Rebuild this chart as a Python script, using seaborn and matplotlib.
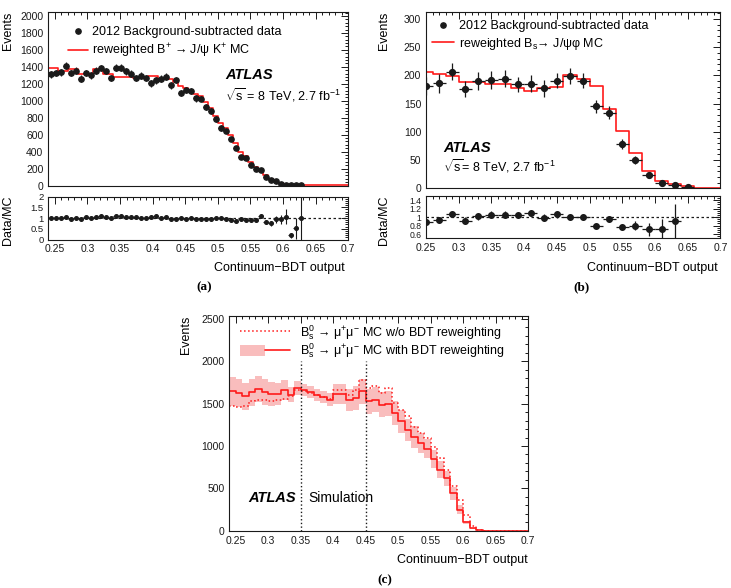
import numpy as np
import pandas as pd
import seaborn as sns
import matplotlib.pyplot as plt
from matplotlib import ticker
from matplotlib.lines import Line2D
from matplotlib.patches import Patch
from matplotlib.legend_handler import HandlerTuple

# panel (a): B+ -> J/psi K+ , 60 bins between 0.24 and 0.70
a_edges = np.linspace(0.24, 0.70, 61)
a_data = [1310, 1325, 1335, 1415, 1325, 1355, 1260, 1325, 1300, 1355,
          1385, 1350, 1265, 1390, 1390, 1345, 1320, 1265, 1295, 1270,
          1205, 1240, 1260, 1285, 1180, 1242, 1090, 1128, 1112, 1028,
          1025, 926, 878, 783, 678, 644, 550, 444, 338, 325,
          242, 192, 179, 101, 62, 50, 20, 8, 2, 1.5, 1.5]
a_data_err = [38] * 30 + [33] * 5 + [27] * 5 + [18] * 5 + [10] * 3 + [5] * 3
a_mc = [1390, 1390, 1355, 1355, 1375, 1375, 1315, 1315, 1315, 1370,
        1370, 1310, 1310, 1275, 1275, 1275, 1275, 1265, 1265, 1265,
        1287, 1287, 1255, 1255, 1255, 1225, 1170, 1150, 1120, 1075,
        1060, 990, 920, 820, 735, 680, 600, 500, 395, 350,
        275, 215, 175, 125, 75, 55, 25, 12, 6, 3,
        1.5, 0.5, 0.3, 0.2, 0.1, 0.1, 0.1, 0.1, 0.1, 0.1]
a_ratio = [1.0, 0.98, 0.98, 1.06, 0.97, 1.0, 0.95, 1.04, 1.02, 1.04,
           1.1, 1.05, 0.98, 1.1, 1.08, 1.06, 1.04, 1.05, 0.98, 0.99,
           1.04, 1.07, 0.98, 1.05, 0.96, 0.97, 0.98, 0.96, 1.02, 0.97,
           0.96, 0.94, 0.95, 0.98, 1.0, 0.95, 0.93, 0.88, 0.94, 0.89,
           0.9, 0.9, 1.1, 0.82, 0.76, 0.94, 0.94, 1.06, 0.2, 0.52, 1.0]
a_ratio_err = [0.04] * 30 + [0.05] * 10 + [0.06, 0.07, 0.08, 0.1, 0.12,
                                           0.15, 0.2, 0.35, 0.12, 0.5, 2.5]

# panel (b): Bs -> J/psi phi , 0.02 wide bins
b_edges = np.linspace(0.24, 0.70, 24)
b_data = [181, 186, 207, 176, 190, 192, 194, 184, 185, 177,
          191, 199, 191, 145, 134, 79, 50, 24, 10, 5, 2.4]
b_data_err = [16, 17, 15, 15, 16, 16, 15, 14, 15, 15,
              14, 14, 14, 12, 11, 9, 7, 5, 3, 2.5, 1.5]
b_mc = [206, 203, 199, 188, 188, 185, 184, 178, 173, 178,
        180, 200, 193, 181, 141, 102, 62, 31, 13, 7, 4, 1, 0.5]
b_ratio = [0.88, 0.93, 1.07, 0.92, 1.02, 1.06, 1.06, 1.05, 1.09, 0.99,
           1.07, 1.01, 1.01, 0.79, 0.95, 0.76, 0.8, 0.71, 0.71, 0.9]
b_ratio_err = [0.07, 0.08, 0.07, 0.08, 0.08, 0.08, 0.08, 0.08, 0.07, 0.08,
               0.08, 0.07, 0.07, 0.05, 0.07, 0.07, 0.1, 0.15, 0.25, 0.42]

# panel (c): Bs -> mu mu MC, 0.01 wide bins
c_edges = np.linspace(0.24, 0.70, 47)
c_with = [1646, 1626, 1587, 1634, 1673, 1638, 1618, 1618, 1658, 1606,
          1685, 1658, 1634, 1598, 1575, 1547, 1614, 1614, 1547, 1567,
          1646, 1528, 1547, 1488, 1500, 1390, 1291, 1193, 1106, 1035,
          970, 845, 720, 620, 440, 250, 100, 28, 8, 2,
          0, 0, 0, 0, 0, 0]
c_with_err = [170, 170, 160, 160, 150, 150, 140, 130, 120, 90,
              80, 70, 70, 70, 70, 80, 120, 120, 130, 140,
              150, 150, 150, 150, 150, 140, 140, 130, 130, 120,
              110, 110, 100, 90, 80, 50, 20, 8, 3, 1,
              0, 0, 0, 0, 0, 0]
c_without = [1476, 1461, 1470, 1528, 1547, 1547, 1535, 1540, 1555, 1587,
             1665, 1646, 1626, 1606, 1579, 1555, 1665, 1665, 1606, 1665,
             1783, 1685, 1705, 1626, 1685, 1508, 1429, 1350, 1230, 1150,
             1100, 990, 860, 720, 530, 360, 185, 50, 10, 2,
             0, 0, 0, 0, 0, 0]
c_cuts = [0.35, 0.45]
c_cut_top = 2000

W, H = 731, 588
RED = '#ff1a1a'
BAND = '#f9bdbd'

sns.set_theme(style='white')
plt.rcParams['font.family'] = ['Liberation Sans', 'DejaVu Sans']
plt.rcParams['mathtext.fontset'] = 'custom'
plt.rcParams['mathtext.rm'] = 'Liberation Sans'
plt.rcParams['mathtext.it'] = 'Liberation Sans:italic'
plt.rcParams['mathtext.bf'] = 'Liberation Sans:bold'
plt.rcParams['text.color'] = 'black'


def fx(px):
    return px / W


def fy(py):
    return 1 - py / H


def px_axes(fig, x0, y0, x1, y1):
    return fig.add_axes([x0 / W, 1 - y1 / H, (x1 - x0) / W, (y1 - y0) / H])


def root_ticks(ax, ymajor, yminor, ylabelsize=7.5):
    ax.xaxis.set_major_locator(ticker.MultipleLocator(0.05))
    ax.xaxis.set_minor_locator(ticker.MultipleLocator(0.01))
    ax.yaxis.set_major_locator(ticker.MultipleLocator(ymajor))
    ax.yaxis.set_minor_locator(ticker.MultipleLocator(yminor))
    ax.xaxis.set_major_formatter(ticker.FormatStrFormatter('%g'))
    ax.yaxis.set_major_formatter(ticker.FormatStrFormatter('%g'))
    ax.tick_params(which='both', direction='in', top=True, right=True,
                   colors='k', labelsize=7.5, pad=3.5)
    ax.tick_params(axis='y', labelsize=ylabelsize)
    ax.tick_params(which='major', length=5, width=0.7)
    ax.tick_params(which='minor', length=2.5, width=0.7)
    for s in ax.spines.values():
        s.set_color('k')
        s.set_linewidth(0.8)
    ax.set_xlabel('')
    ax.set_ylabel('')


def centers(edges):
    return 0.5 * (edges[:-1] + edges[1:])


def step_hist(ax, edges, values, **kw):
    # histogram outline: repeat last bin content at the right edge
    df = pd.DataFrame({'edge': edges, 'content': list(values) + [values[-1]]})
    sns.lineplot(data=df, x='edge', y='content', drawstyle='steps-post',
                 ax=ax, **kw)


fig = plt.figure(figsize=(W / 100, H / 100), dpi=100)

# ---------- (a) ----------
ax = px_axes(fig, 48.3, 11.7, 348.3, 185.5)
ac = centers(a_edges)
half_a = 0.5 * (a_edges[1] - a_edges[0])
step_hist(ax, a_edges, a_mc, color=RED, linewidth=1.2)
n = len(a_data)
ax.errorbar(ac[:n], a_data, yerr=a_data_err, xerr=half_a, fmt='o', ms=3.8,
            color='k', elinewidth=0.9, capsize=0)
ax.set_xlim(0.24, 0.70)
ax.set_ylim(0, 2050)
root_ticks(ax, 200, 40)
ax.tick_params(labelbottom=False)
ax.legend(handles=[Line2D([], [], marker='o', ls='none', color='k', ms=3.8),
                   Line2D([], [], color=RED, lw=1.2)],
          labels=['2012 Background-subtracted data',
                  r'reweighted B$^{+}$ → J/ψ K$^{+}$ MC'],
          loc='upper left', bbox_to_anchor=(fx(68), fy(26)),
          bbox_transform=fig.transFigure, frameon=False, fontsize=9,
          borderpad=0, borderaxespad=0, handlelength=1.6,
          handletextpad=0.3, labelspacing=0.35)
fig.text(fx(225), fy(75), 'ATLAS', fontsize=10.5, weight='bold',
         style='italic', va='center')
fig.text(fx(225), fy(95), r'$\sqrt{\mathrm{s}}$ = 8 TeV, 2.7 fb$^{-1}$',
         fontsize=9, va='center')

axr = px_axes(fig, 48.3, 196.5, 348.3, 239.5)
axr.axhline(1, color='k', ls=(0, (2, 2)), lw=0.9)
axr.errorbar(ac[:n], a_ratio, yerr=a_ratio_err, xerr=half_a, fmt='o', ms=2.6,
             color='k', elinewidth=0.8, capsize=0)
axr.set_xlim(0.24, 0.70)
axr.set_ylim(0, 2)
root_ticks(axr, 0.5, 0.1, ylabelsize=6.8)

fig.text(fx(8), fy(12), 'Events', rotation=90, ha='center', va='top', fontsize=9)
fig.text(fx(8), fy(196), 'Data/MC', rotation=90, ha='center', va='top', fontsize=9)
fig.text(fx(345), fy(268), 'Continuum−BDT output', ha='right', va='center', fontsize=9)
fig.text(fx(204), fy(287), '(a)', family='Liberation Serif', weight='bold',
         ha='center', va='center', fontsize=9.5)

# ---------- (b) ----------
ax = px_axes(fig, 426, 11.7, 720.5, 188.3)
bc = centers(b_edges)
half_b = 0.5 * (b_edges[1] - b_edges[0])
step_hist(ax, b_edges, b_mc, color=RED, linewidth=1.2)
n = len(b_data)
ax.errorbar(bc[:n], b_data, yerr=b_data_err, xerr=half_b, fmt='o', ms=4.2,
            color='k', elinewidth=0.9, capsize=0)
ax.set_xlim(0.25, 0.70)
ax.set_ylim(0, 313)
root_ticks(ax, 50, 10)
ax.tick_params(labelbottom=False)
ax.legend(handles=[Line2D([], [], marker='o', ls='none', color='k', ms=3.8),
                   Line2D([], [], color=RED, lw=1.2)],
          labels=['2012 Background-subtracted data',
                  r'reweighted B$_{\mathrm{s}}$→ J/ψφ MC'],
          loc='upper left', bbox_to_anchor=(fx(431.7), fy(20.5)),
          bbox_transform=fig.transFigure, frameon=False, fontsize=9,
          borderpad=0, borderaxespad=0, handlelength=1.75,
          handletextpad=0.45, labelspacing=0.25)
fig.text(fx(443), fy(147.7), 'ATLAS', fontsize=10.5, weight='bold',
         style='italic', va='center')
fig.text(fx(443), fy(165.7), r'$\sqrt{\mathrm{s}}$= 8 TeV, 2.7 fb$^{-1}$',
         fontsize=9, va='center')

axr = px_axes(fig, 426, 196, 720.5, 238.3)
axr.axhline(1, color='k', ls=(0, (2, 2)), lw=0.9)
axr.errorbar(bc[:len(b_ratio)], b_ratio, yerr=b_ratio_err, xerr=half_b, fmt='o',
             ms=4, color='k', elinewidth=0.9, capsize=0)
axr.set_xlim(0.25, 0.70)
axr.set_ylim(0.5, 1.5)
root_ticks(axr, 0.2, 0.05, ylabelsize=6.2)

fig.text(fx(384), fy(12), 'Events', rotation=90, ha='center', va='top', fontsize=9)
fig.text(fx(384), fy(196), 'Data/MC', rotation=90, ha='center', va='top', fontsize=9)
fig.text(fx(718), fy(268), 'Continuum−BDT output', ha='right', va='center', fontsize=9)
fig.text(fx(581), fy(287), '(b)', family='Liberation Serif', weight='bold',
         ha='center', va='center', fontsize=9.5)

# ---------- (c) ----------
ax = px_axes(fig, 229.3, 316, 528.3, 530.7)
lo = np.array(c_with) - np.array(c_with_err)
hi = np.array(c_with) + np.array(c_with_err)
ax.fill_between(c_edges, np.append(lo, lo[-1]), np.append(hi, hi[-1]),
                step='post', color=BAND, lw=0)
step_hist(ax, c_edges, c_without, color=RED, linewidth=1.1, linestyle=':')
step_hist(ax, c_edges, c_with, color=RED, linewidth=1.2)
ax.vlines(c_cuts, 0, c_cut_top, colors='k', linestyles=':', lw=1)
ax.set_xlim(0.24, 0.70)
ax.set_ylim(0, 2535)
root_ticks(ax, 500, 100)
ax.legend(handles=[Line2D([], [], color=RED, lw=1.1, ls=':'),
                   (Patch(color=BAND, lw=0), Line2D([], [], color=RED, lw=1.2))],
          labels=[r'B$^{0}_{\mathrm{s}}$ → μ$^{+}$μ$^{-}$ MC w/o BDT reweighting',
                  r'B$^{0}_{\mathrm{s}}$ → μ$^{+}$μ$^{-}$ MC with BDT reweighting'],
          handler_map={tuple: HandlerTuple(ndivide=None, pad=0)},
          loc='upper left', bbox_to_anchor=(fx(240), fy(323)),
          bbox_transform=fig.transFigure, frameon=False, fontsize=9,
          borderpad=0, borderaxespad=0, handlelength=4.0, handleheight=1.0,
          handletextpad=0.8, labelspacing=0.0)
fig.text(fx(248.3), fy(498.3), 'ATLAS', fontsize=10.5, weight='bold',
         style='italic', va='center')
fig.text(fx(308.3), fy(498.3), 'Simulation', fontsize=10, va='center')

fig.text(fx(186), fy(316), 'Events', rotation=90, ha='center', va='top', fontsize=9)
fig.text(fx(528), fy(560), 'Continuum−BDT output', ha='right', va='center', fontsize=9)
fig.text(fx(385), fy(580), '(c)', family='Liberation Serif', weight='bold',
         ha='center', va='center', fontsize=9.5)

fig.savefig('out.png', dpi=100)
